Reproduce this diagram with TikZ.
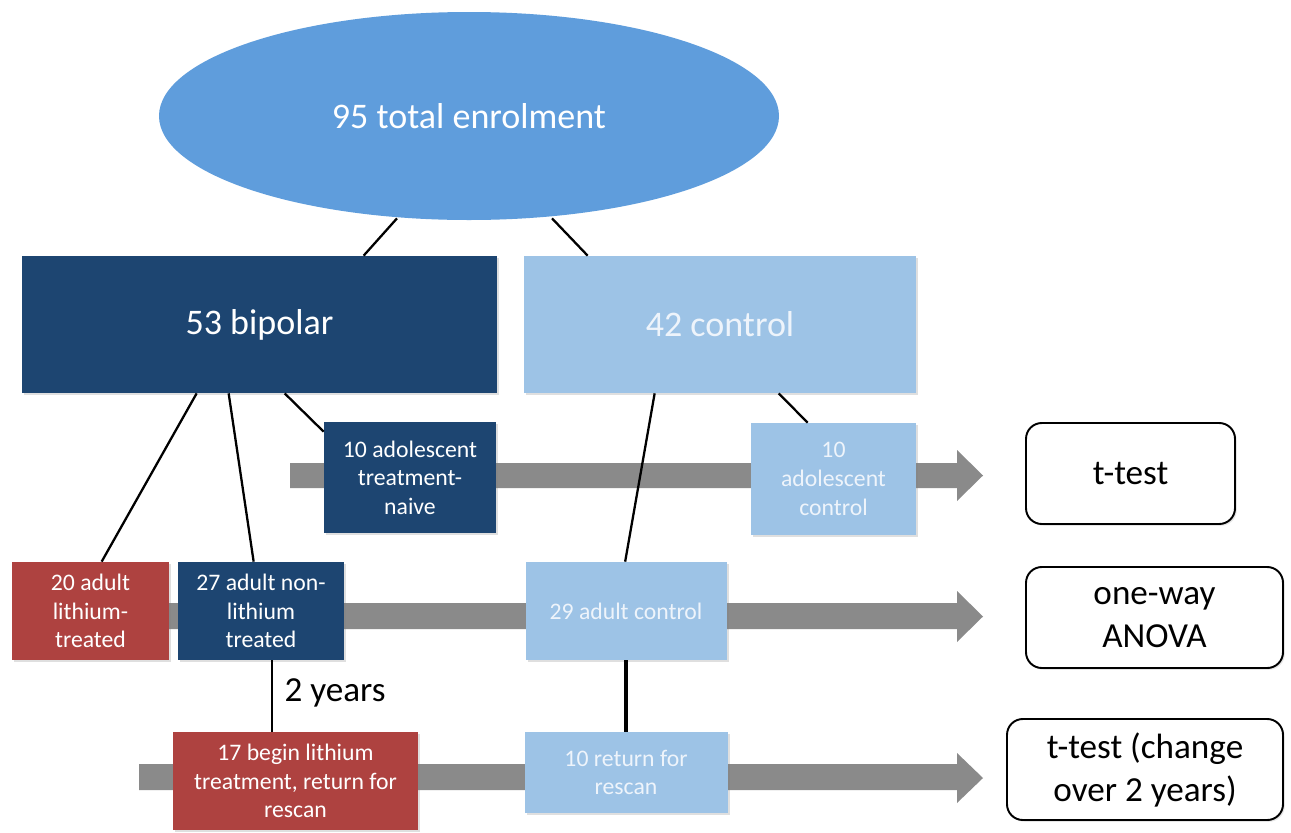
\documentclass[tikz,border=0pt]{standalone}
\usepackage{fontspec}
\setmainfont{Carlito}
\usetikzlibrary{calc,shapes.geometric,shadows}
\definecolor{navy}{HTML}{1D4571}
\definecolor{lightb}{HTML}{9DC3E6}
\definecolor{ellb}{HTML}{5F9DDC}
\definecolor{redb}{HTML}{AE4240}
\definecolor{arrowgray}{HTML}{8A8A8A}
\definecolor{lighttext}{HTML}{EEF4FB}
\tikzset{
  sz/.style 2 args={minimum width=#1*0.02cm, minimum height=#2*0.02cm},
  boxbase/.style={rectangle, inner sep=0pt, align=center,
    drop shadow={shadow xshift=1.2pt, shadow yshift=-1.2pt, opacity=0.25}},
  navybox/.style={boxbase, fill=navy, text=white},
  lightbox/.style={boxbase, fill=lightb, text=lighttext},
  redbox/.style={boxbase, fill=redb, text=white},
  resultbox/.style={rectangle, rounded corners=9pt, draw=black, line width=1.1pt,
    fill=white, inner sep=0pt, align=center, font=\fontsize{20}{24.5}\selectfont,
    drop shadow={shadow xshift=1pt, shadow yshift=-1pt, opacity=0.2}},
  bigtext/.style={font=\fontsize{20.5}{24}\selectfont},
  smalltext/.style={font=\fontsize{13.5}{16.3}\selectfont},
  conn/.style={draw=black, line width=1.3pt},
  bar/.style={fill=arrowgray}
}
\begin{document}
\begin{tikzpicture}[x=0.02cm, y=-0.02cm]
\useasboundingbox (0,0) rectangle (1291,832);
\fill[white] (0,0) rectangle (1291,832);

% grey arrows (behind)
\fill[bar] (290,463) -- (957,463) -- (957,450) -- (983,475.5) -- (957,501) -- (957,488) -- (290,488) -- cycle;
\fill[bar] (165,603) -- (957,603) -- (957,591) -- (983,616.5) -- (957,642) -- (957,629) -- (165,629) -- cycle;
\fill[bar] (139,764) -- (957,764) -- (957,753) -- (983,778) -- (957,803) -- (957,790) -- (139,790) -- cycle;

% nodes
\node[ellipse, fill=ellb, text=white, sz={620}{208}, inner sep=0pt, bigtext] (ell) at (469,116) {95 total enrolment};
\node[navybox, sz={475}{137}, bigtext] (bip) at (259.5,324.5) {53 bipolar};
\node[lightbox, sz={392}{137}, bigtext] (ctl) at (720,324.5) {42 control};

\node[navybox, sz={172}{111}, smalltext] (ado) at (410,477.5) {10 adolescent\\treatment-\\naive};
\node[lightbox, sz={165}{112}, smalltext] (adc) at (833.5,479) {10\\adolescent\\control};

\node[redbox, sz={157}{98}, smalltext] (a20) at (90.5,611) {20 adult\\lithium-\\treated};
\node[navybox, sz={166}{98}, smalltext] (a27) at (261,611) {27 adult non-\\lithium\\treated};
\node[lightbox, sz={201}{98}, smalltext] (c29) at (626,611) {29 adult control};

\node[redbox, sz={245}{98}, smalltext] (b17) at (295.5,781) {17 begin lithium\\treatment, return for\\rescan};
\node[lightbox, sz={203}{81}, smalltext] (r10) at (626,772.5) {10 return for\\rescan};

\node[resultbox, sz={209}{101}] (tt1) at (1130.5,473.5) {t-test};
\node[resultbox, sz={257}{101}] (anova) at (1154.5,617.5) {one-way\\ANOVA};
\node[resultbox, sz={276}{101}] (tt2) at (1145,769.5) {t-test (change\\over 2 years)};

% connectors
\draw[conn] ($(ell.south)+(-72,-2)$) -- ($(bip.north west)+(342,0)$);
\draw[conn] ($(ell.south)+(83,-2)$) -- ($(ctl.north west)+(64,0)$);

\draw[conn] ($(bip.south west)+(175,0)$) -- ($(a20.north west)+(90,0)$);
\draw[conn] ($(bip.south west)+(207,0)$) -- ($(a27.north west)+(76,0)$);
\draw[conn] ($(bip.south west)+(263,0)$) -- ($(ado.north west)+(0,10)$);

\draw[conn] ($(ctl.south west)+(131,0)$) -- ($(c29.north west)+(100,0)$);
\draw[conn] ($(ctl.south west)+(255,0)$) -- ($(adc.north west)+(57,0)$);

\draw[conn] ($(a27.south west)+(94,0)$) -- ($(b17.north west)+(99,0)$);
\draw[conn, line width=2pt] (c29.south) -- (r10.north);

\node[font=\fontsize{20}{24}\selectfont] (yrs) at (335,693) {2 years};
\end{tikzpicture}
\end{document}
